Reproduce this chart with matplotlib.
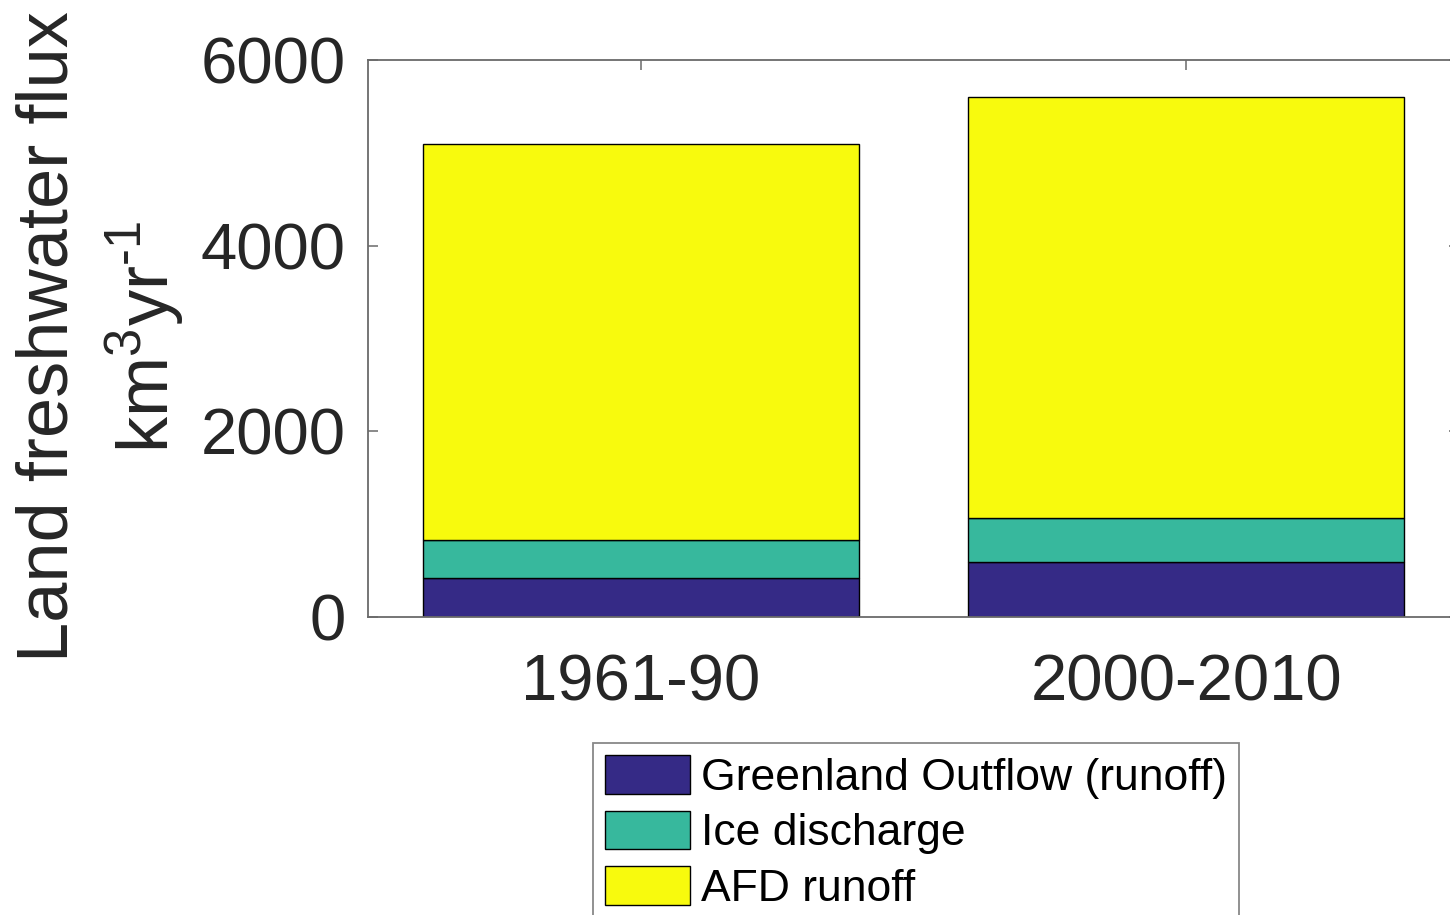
import matplotlib
matplotlib.use("Agg")
import matplotlib.pyplot as plt
import numpy as np

plt.rcParams['font.family'] = ['Liberation Sans', 'DejaVu Sans']
plt.rcParams['mathtext.fontset'] = 'custom'
plt.rcParams['mathtext.rm'] = 'Liberation Sans'
plt.rcParams['mathtext.it'] = 'Liberation Sans'

periods = ['1961-90', '2000-2010']
series_names = ['Greenland Outflow (runoff)', 'Ice discharge', 'AFD runoff']
greenland_outflow = [420, 590]
ice_discharge = [410, 475]
afd_runoff = [4270, 4535]
series_colors = ['#352A86', '#37B89D', '#F8FA0D']
yticks = [0, 2000, 4000, 6000]

fig = plt.figure(figsize=(14.5, 9.15), dpi=100)
ax = fig.add_axes([368 / 1450, 298 / 915, 1091 / 1450, 557 / 915])

x = np.arange(1, len(periods) + 1)
bottom = np.zeros(len(periods))
for vals, name, col in zip([greenland_outflow, ice_discharge, afd_runoff],
                           series_names, series_colors):
    ax.bar(x, vals, width=0.8, bottom=bottom, color=col, edgecolor='black',
           linewidth=1.0, label=name, zorder=2)
    bottom += np.array(vals)

ax.set_xlim(0.5, 2.5)
ax.set_ylim(0, 6000)
ax.set_xticks(x)
ax.set_xticklabels(periods)
ax.set_yticks(yticks)
ax.set_yticklabels([str(v) for v in yticks])

for s in ax.spines.values():
    s.set_color('#6a6a6a')
    s.set_linewidth(1.3)
ax.tick_params(axis='both', direction='in', length=7, width=1.1, color='#6a6a6a',
               top=True, right=True, labelsize=47, labelcolor='#262626')
ax.tick_params(axis='y', pad=16)
ax.tick_params(axis='x', pad=26)

fig.text(0.0696, 0.632, 'Land freshwater flux\nkm$^3$yr$^{\\text{-}1}$', rotation=90,
         ha='center', va='center', multialignment='center', fontsize=52,
         color='#262626', linespacing=1.32)

leg = fig.legend(loc='upper left', bbox_to_anchor=(593 / 1450, 1 - 743 / 915),
                 fontsize=32, frameon=True, fancybox=False, edgecolor='#6a6a6a',
                 handlelength=1.9, handleheight=0.95, handletextpad=0.25,
                 labelspacing=0.27, borderpad=0.28, borderaxespad=0)
leg.get_frame().set_linewidth(1.3)
for t in leg.get_texts():
    t.set_color('black')

fig.savefig('out.png', dpi=100)
